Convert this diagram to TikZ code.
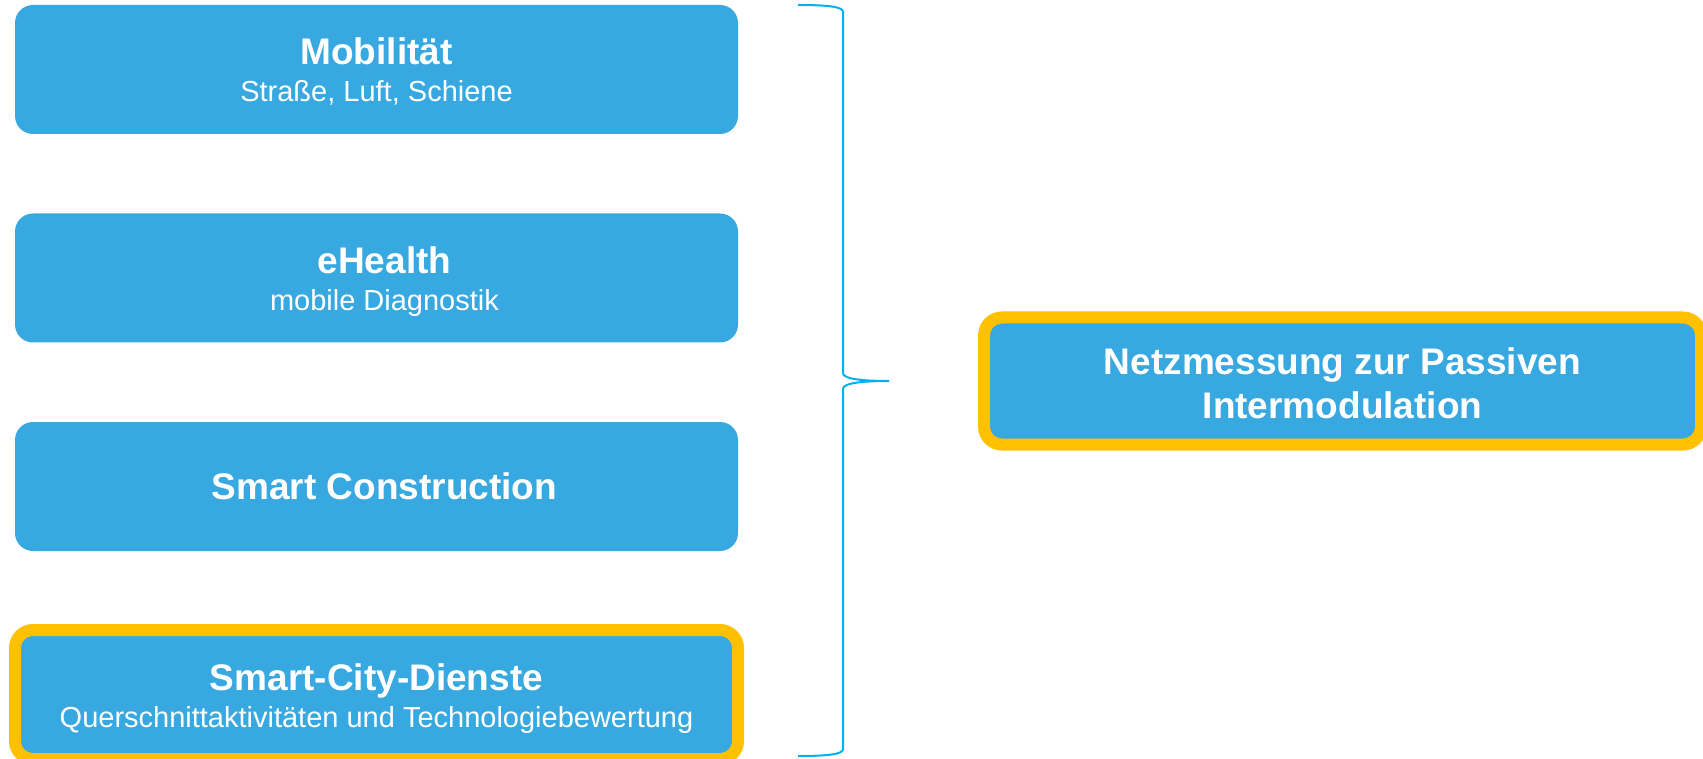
\documentclass[tikz,border=0pt]{standalone}
\usepackage{fontspec}
\setmainfont{Liberation Sans}
\usetikzlibrary{arrows.meta}
\definecolor{boxblue}{HTML}{38A9E0}
\definecolor{frameyellow}{HTML}{FFC000}
\definecolor{bracecyan}{HTML}{00B0F0}
\tikzset{
  fieldbox/.style={fill=boxblue,text=white,rounded corners=18pt,inner sep=0pt,
    minimum width=723pt,minimum height=129pt,align=center,
    font=\fontsize{37}{37}\selectfont\bfseries},
  focusbox/.style={fieldbox,draw=frameyellow,line width=12pt},
}
\newcommand{\toprow}[2][28pt]{\smash{#2}\rule{0pt}{#1}}
\newcommand{\subline}[1]{{\fontsize{29}{37}\selectfont\mdseries\smash{#1}}}
\newcommand{\nudge}{\hspace*{16pt}}
\begin{document}
\begin{tikzpicture}[x=1pt,y=-1pt,>=Stealth]
\useasboundingbox (0,0) rectangle (1703,759);
\node[fieldbox] (mob) at (376.5,69.5) {\toprow{Mobilität}\\\subline{Straße, Luft, Schiene}};
\node[fieldbox] (ehealth) at (376.5,278) {\nudge\toprow{eHealth}\\\nudge\subline{mobile Diagnostik}};
\node[fieldbox] (construct) at (376.5,486.5) {\nudge Smart Construction};
\node[focusbox] (smartcity) at (376.5,694.5) {\toprow{Smart-City-Dienste}\\\subline{Querschnittaktivitäten und Technologiebewertung}};
\node[focusbox,minimum width=717pt,minimum height=127pt,
  font=\fontsize{37}{44}\selectfont\bfseries] (pim) at (1342.5,381)
  {\toprow[30pt]{Netzmessung zur Passiven}\\\smash{Intermodulation}};
% brace
\coordinate (brtop) at (798,5);
\coordinate (brtip) at (889,381);
\coordinate (brbot) at (798,756);
\draw[bracecyan,line width=2pt] (brtop) .. controls (830,5) and (843,7) .. (843,12)
  -- (843,373) .. controls (843,378) and (856,381) .. (brtip)
  .. controls (856,381) and (843,384) .. (843,389)
  -- (843,749) .. controls (843,754) and (830,756) .. (brbot);
\end{tikzpicture}
\end{document}
